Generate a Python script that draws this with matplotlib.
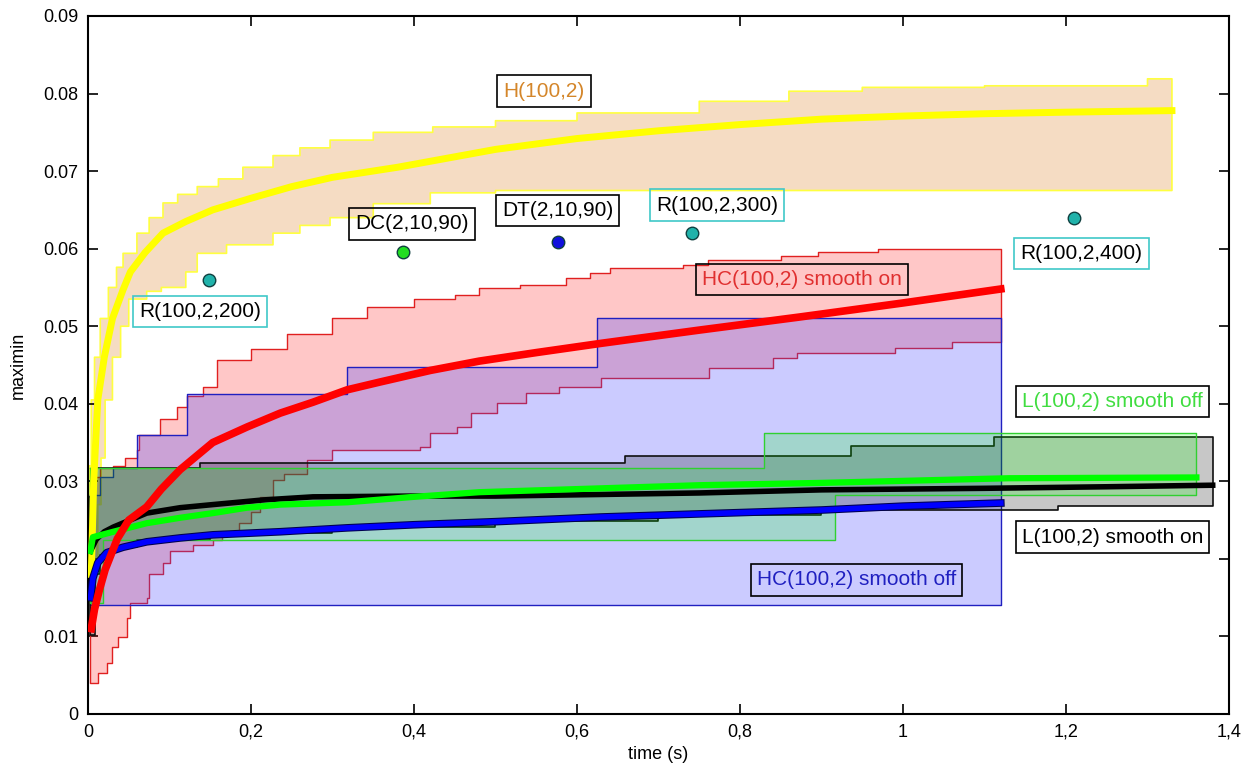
import numpy as np
import matplotlib
matplotlib.use("Agg")
import matplotlib.pyplot as plt
from matplotlib.colors import to_rgba
import matplotlib.patheffects as pe

plt.rcParams['font.family'] = ['Liberation Sans', 'DejaVu Sans']

# ---- H(100,2) ----
h_t = [0.004, 0.007, 0.012, 0.02, 0.03, 0.043, 0.052, 0.07, 0.092, 0.12, 0.153, 0.2, 0.25, 0.3,
       0.38, 0.5, 0.6, 0.7, 0.8, 0.9, 1.0, 1.1, 1.2, 1.33]
h_v = [0.018, 0.03, 0.0405, 0.046, 0.051, 0.0547, 0.057, 0.0595, 0.062, 0.0635, 0.065, 0.0665, 0.068, 0.0692,
       0.0705, 0.0728, 0.0742, 0.0752, 0.076, 0.0767, 0.0771, 0.0774, 0.0776, 0.0778]
h_up_t = [0.002, 0.004, 0.008, 0.015, 0.025, 0.035, 0.043, 0.06, 0.075, 0.092, 0.11, 0.134, 0.16, 0.19, 0.227,
          0.26, 0.297, 0.35, 0.423, 0.5, 0.6, 0.75, 0.86, 0.95, 1.10, 1.30, 1.33]
h_up_v = [0.032, 0.0405, 0.046, 0.051, 0.055, 0.0576, 0.0594, 0.062, 0.064, 0.0659, 0.067, 0.068, 0.069, 0.0705,
          0.072, 0.073, 0.074, 0.075, 0.0757, 0.0765, 0.0775, 0.079, 0.0803, 0.0808, 0.081, 0.0819, 0.0819]
h_lo_t = [0.004, 0.008, 0.012, 0.016, 0.021, 0.03, 0.04, 0.05, 0.072, 0.09, 0.12, 0.134, 0.17, 0.227, 0.26,
          0.297, 0.35, 0.42, 0.5, 1.33]
h_lo_v = [0.012, 0.02, 0.027, 0.033, 0.0405, 0.046, 0.05, 0.0535, 0.0545, 0.055, 0.057, 0.0594, 0.0605, 0.062,
          0.063, 0.064, 0.0658, 0.0672, 0.0675, 0.0675]

# ---- HC(100,2) smooth on ----
hcon_t = [0.004, 0.008, 0.014, 0.021, 0.036, 0.05, 0.072, 0.09, 0.113, 0.153, 0.195, 0.236, 0.276, 0.318,
          0.358, 0.42, 0.48, 0.55, 0.63, 0.75, 0.874, 1.0, 1.12]
hcon_v = [0.011, 0.0135, 0.016, 0.0186, 0.0226, 0.025, 0.0267, 0.029, 0.0315, 0.035, 0.037, 0.0388, 0.0402,
          0.0418, 0.0428, 0.0443, 0.0455, 0.0466, 0.0478, 0.0495, 0.0512, 0.053, 0.0548]
hcon_up_t = [0.002, 0.006, 0.015, 0.031, 0.045, 0.06, 0.062, 0.088, 0.109, 0.121, 0.141, 0.158, 0.2, 0.244, 0.3,
             0.342, 0.4, 0.45, 0.48, 0.53, 0.587, 0.616, 0.641, 0.73, 0.761, 0.85, 0.896, 0.969, 1.12]
hcon_up_v = [0.028, 0.0305, 0.0317, 0.032, 0.033, 0.034, 0.036, 0.038, 0.0396, 0.041, 0.0422, 0.0456, 0.047,
             0.049, 0.051, 0.0525, 0.0535, 0.054, 0.0549, 0.0553, 0.0562, 0.0568, 0.0575, 0.0579, 0.0585, 0.059,
             0.0596, 0.060, 0.060]
hcon_lo_t = [0.002, 0.012, 0.023, 0.03, 0.037, 0.048, 0.052, 0.072, 0.075, 0.092, 0.1, 0.129, 0.153, 0.165,
             0.185, 0.2, 0.211, 0.227, 0.24, 0.269, 0.3, 0.407, 0.42, 0.453, 0.47, 0.502, 0.537, 0.578, 0.63,
             0.762, 0.84, 0.87, 0.99, 1.06, 1.12]
hcon_lo_v = [0.004, 0.0053, 0.0066, 0.0086, 0.0099, 0.0124, 0.0143, 0.015, 0.018, 0.0195, 0.021, 0.0218,
             0.0224, 0.0233, 0.0246, 0.026, 0.028, 0.0302, 0.031, 0.0327, 0.034, 0.0344, 0.0362, 0.037, 0.0388,
             0.0401, 0.0414, 0.0422, 0.0433, 0.0446, 0.0459, 0.0465, 0.0472, 0.048, 0.048]

# ---- HC(100,2) smooth off ----
hcoff_t = [0.003, 0.006, 0.012, 0.023, 0.043, 0.072, 0.113, 0.153, 0.236, 0.318, 0.4, 0.5, 0.63, 0.75, 0.9,
           1.0, 1.12]
hcoff_v = [0.015, 0.0175, 0.0195, 0.0208, 0.0215, 0.0222, 0.0227, 0.0231, 0.0235, 0.024, 0.0244, 0.0248,
           0.0254, 0.0258, 0.0263, 0.0268, 0.0272]
hcoff_up_t = [0.003, 0.015, 0.031, 0.06, 0.121, 0.318, 0.625, 1.12]
hcoff_up_v = [0.0282, 0.0306, 0.0317, 0.036, 0.0413, 0.0447, 0.051, 0.051]
hcoff_lo_t = [0.003, 1.12]
hcoff_lo_v = [0.014, 0.014]

# ---- L(100,2) smooth on ----
lon_t = [0.003, 0.01, 0.02, 0.031, 0.072, 0.113, 0.153, 0.215, 0.276, 0.4, 0.5, 0.75, 0.9, 1.1, 1.25, 1.38]
lon_v = [0.021, 0.0225, 0.0235, 0.0241, 0.0259, 0.0266, 0.027, 0.0276, 0.028, 0.0281, 0.0281, 0.0285,
         0.0289, 0.0291, 0.0293, 0.0295]
lon_up_t = [0.003, 0.006, 0.137, 0.659, 0.936, 1.112, 1.38]
lon_up_v = [0.028, 0.0317, 0.0324, 0.0333, 0.0345, 0.0357, 0.0357]
lon_lo_t = [0.003, 0.008, 0.015, 0.03, 0.06, 0.15, 0.3, 0.5, 0.7, 0.9, 1.19, 1.38]
lon_lo_v = [0.0102, 0.018, 0.0205, 0.0215, 0.0225, 0.0233, 0.0241, 0.0249, 0.0257, 0.0263, 0.0268, 0.0268]

# ---- L(100,2) smooth off ----
loff_t = [0.003, 0.006, 0.031, 0.072, 0.113, 0.153, 0.195, 0.236, 0.318, 0.4, 0.48, 0.6, 0.75, 0.9, 1.13, 1.36]
loff_v = [0.021, 0.0228, 0.0235, 0.0246, 0.0253, 0.0259, 0.0266, 0.027, 0.0273, 0.028, 0.0286, 0.029,
          0.0295, 0.0298, 0.0304, 0.0305]
loff_up_t = [0.003, 0.83, 1.36]
loff_up_v = [0.0317, 0.0362, 0.0362]
loff_lo_t = [0.003, 0.019, 0.917, 1.36]
loff_lo_v = [0.0143, 0.0224, 0.0282, 0.0282]

# ---- single runs ----
pt_t = [0.148, 0.387, 0.577, 0.741, 1.21]
pt_v = [0.056, 0.0596, 0.0609, 0.062, 0.064]
pt_col = ['#20b2aa', '#22dd22', '#1010dd', '#20b2aa', '#20b2aa']

# labels: text, x, y, text colour, box colour
lab_txt = ['H(100,2)', 'DC(2,10,90)', 'DT(2,10,90)', 'R(100,2,300)', 'R(100,2,200)', 'R(100,2,400)',
           'HC(100,2) smooth on', 'L(100,2) smooth off', 'L(100,2) smooth on', 'HC(100,2) smooth off']
lab_x = [0.5595, 0.397, 0.576, 0.772, 0.1374, 1.219, 0.876, 1.257, 1.257, 0.943]
lab_y = [0.0803, 0.0632, 0.0649, 0.0656, 0.0519, 0.0594, 0.056, 0.0403, 0.0228, 0.0173]
lab_tc = ['#d4862a', 'k', 'k', 'k', 'k', 'k', '#e03030', '#40dd40', 'k', '#2020c0']
lab_ec = ['k', 'k', 'k', '#40c8c8', '#40c8c8', '#40c8c8', 'k', 'k', 'k', 'k']


def stairs(t, v):
    t = np.asarray(t, float)
    v = np.asarray(v, float)
    return np.repeat(t, 2)[1:], np.repeat(v, 2)[:-1]


def band(ax, tu, vu, tl, vl, fc, alpha, ec, lw, z):
    xu, yu = stairs(tu, vu)
    xl, yl = stairs(tl, vl)
    xs = np.concatenate([xu, xl[::-1], xu[:1]])
    ys = np.concatenate([yu, yl[::-1], yu[:1]])
    ax.fill(xs, ys, facecolor=to_rgba(fc, alpha), edgecolor='none', zorder=z)
    ax.plot(xs, ys, color=ec, lw=lw, zorder=z + 0.1)


fig = plt.figure(figsize=(12.47, 7.76), dpi=100)
ax = fig.add_axes([88 / 1247, 62 / 776, 1141 / 1247, 698 / 776])

band(ax, h_up_t, h_up_v, h_lo_t, h_lo_v, '#f5dcc3', 1.0, '#ffff40', 1.2, 1)
band(ax, hcon_up_t, hcon_up_v, hcon_lo_t, hcon_lo_v, '#ff0000', 0.22, '#e02020', 1.0, 2)
band(ax, hcoff_up_t, hcoff_up_v, hcoff_lo_t, hcoff_lo_v, '#4040ff', 0.27, '#2020c0', 1.0, 3)
band(ax, lon_up_t, lon_up_v, lon_lo_t, lon_lo_v, '#000000', 0.22, '#101010', 1.2, 4)
band(ax, loff_up_t, loff_up_v, loff_lo_t, loff_lo_v, '#00ff00', 0.2, '#30d030', 1.0, 5)

ax.plot(h_t, h_v, color='#ffff00', lw=5.0, zorder=6)
ax.plot(lon_t, lon_v, color='black', lw=4.0, zorder=7)
ax.plot(loff_t, loff_v, color='#00ff00', lw=4.5, zorder=8)
ax.plot(hcoff_t, hcoff_v, color='#0000ff', lw=4.0, zorder=9,
        path_effects=[pe.Stroke(linewidth=5.5, foreground='#000050'), pe.Normal()])
ax.plot(hcon_t, hcon_v, color='#ff0000', lw=5.5, zorder=10)

for t, v, c in zip(pt_t, pt_v, pt_col):
    ax.plot(t, v, 'o', ms=9, mfc=c, mec='#104040', mew=1.0, zorder=11)

for s, x, y, tc, ec in zip(lab_txt, lab_x, lab_y, lab_tc, lab_ec):
    ax.text(x, y, s, color=tc, fontsize=15, ha='center', va='center', zorder=12, clip_on=False,
            bbox=dict(boxstyle='square,pad=0.3', fc='none', ec=ec, lw=1.2))

ax.set_xlim(0, 1.4)
ax.set_ylim(0, 0.09)
xt = np.arange(0, 1.41, 0.2)
ax.set_xticks(xt)
ax.set_xticklabels(['0', '0,2', '0,4', '0,6', '0,8', '1', '1,2', '1,4'])
yt = np.arange(0, 0.091, 0.01)
ax.set_yticks(yt)
ax.set_yticklabels(['0'] + ['%.2f' % y for y in yt[1:]])
ax.tick_params(direction='in', length=7, width=1.2, top=True, right=True, labelsize=13, pad=7)
for sp in ax.spines.values():
    sp.set_linewidth(1.5)
ax.set_xlabel('time (s)', fontsize=13, labelpad=4)
ax.set_ylabel('maximin', fontsize=13, labelpad=12)

fig.savefig('out.png', dpi=100)
